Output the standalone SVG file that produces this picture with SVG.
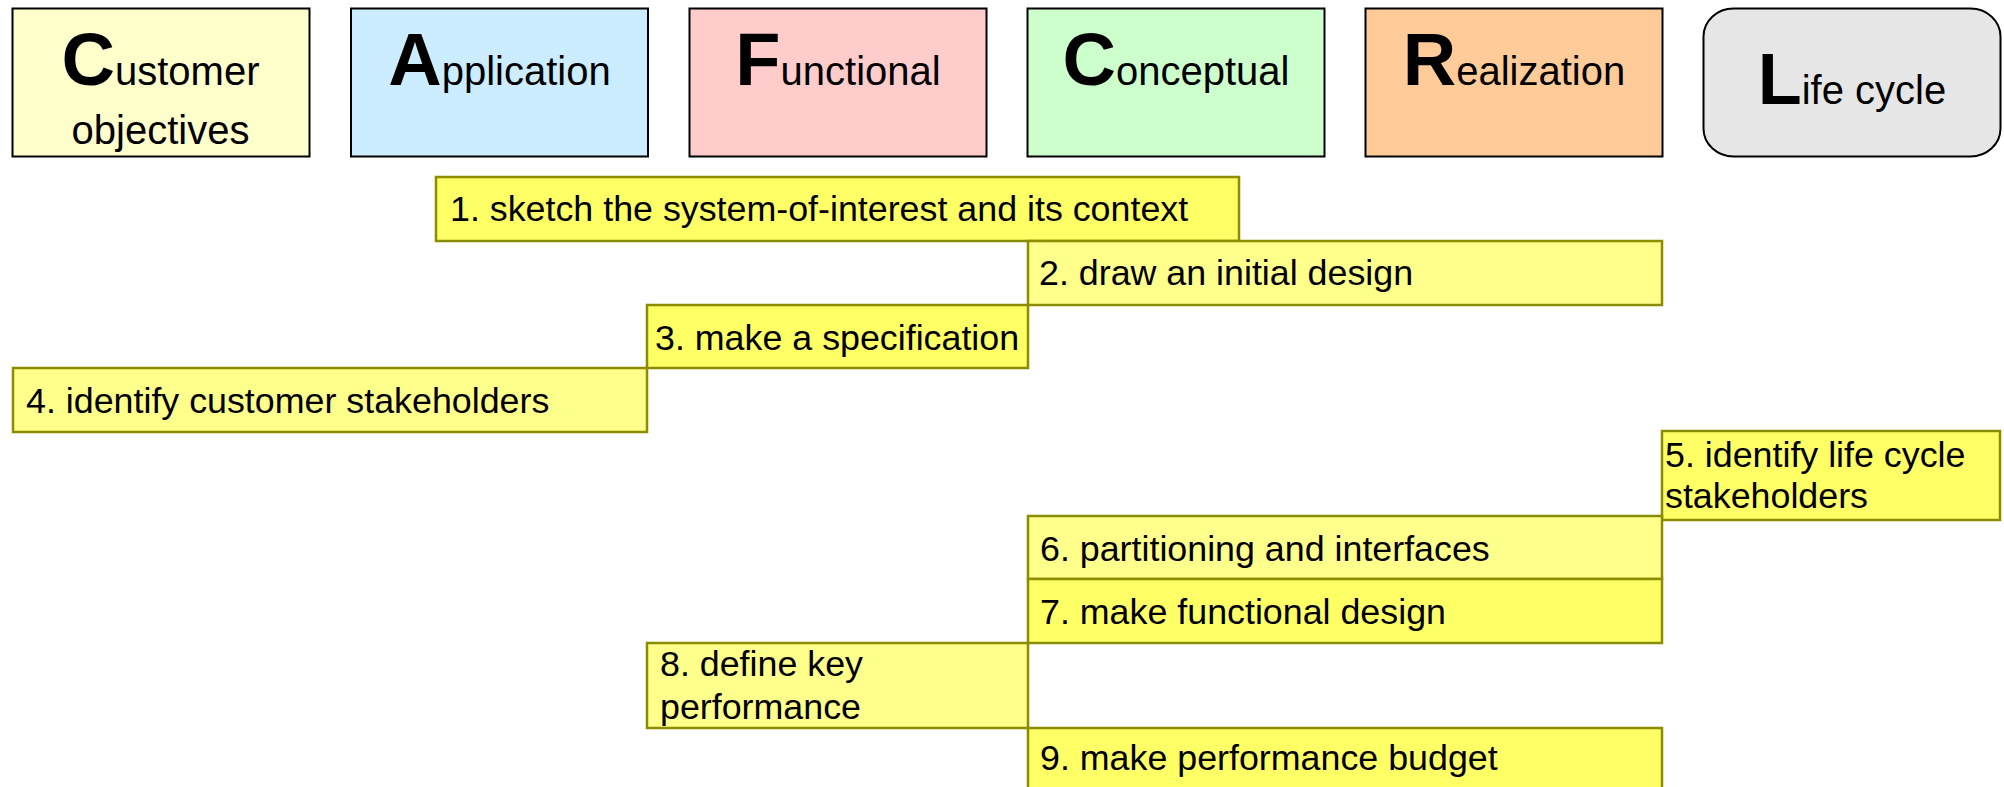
<svg xmlns="http://www.w3.org/2000/svg" width="2004" height="787" viewBox="0 0 2004 787">
<style>
text{font-family:"Liberation Sans",Arial,Helvetica,sans-serif;fill:#000}
.hd{stroke:#000;stroke-width:2}
.hdt{font-size:40px}
.big{font-size:74px;font-weight:bold}
.task{stroke:#8C8C00;stroke-width:2.5}
.t1{fill:#FFFF66}
.t2{fill:#FFFF8C}
.tt{font-size:35.8px}
</style>
<rect width="2004" height="787" fill="#fff"/>
<g id="customer">
<rect class="hd" x="12.5" y="8.5" width="297" height="148" fill="#FFFFCC"/>
<text class="hdt" x="160.5" y="85" text-anchor="middle"><tspan class="big">C</tspan>ustomer</text>
<text class="hdt" x="160.5" y="144" text-anchor="middle">objectives</text>
</g>
<g id="application">
<rect class="hd" x="351" y="8.5" width="297" height="148" fill="#CCECFF"/>
<text class="hdt" x="499.5" y="85" text-anchor="middle"><tspan class="big">A</tspan>pplication</text>
</g>
<g id="functional">
<rect class="hd" x="689.5" y="8.5" width="297" height="148" fill="#FFCCCC"/>
<text class="hdt" x="838" y="85" text-anchor="middle"><tspan class="big">F</tspan>unctional</text>
</g>
<g id="conceptual">
<rect class="hd" x="1027.5" y="8.5" width="297" height="148" fill="#CCFFCC"/>
<text class="hdt" x="1176" y="85" text-anchor="middle"><tspan class="big">C</tspan>onceptual</text>
</g>
<g id="realization">
<rect class="hd" x="1365.5" y="8.5" width="297" height="148" fill="#FFCC99"/>
<text class="hdt" x="1514" y="85" text-anchor="middle"><tspan class="big">R</tspan>ealization</text>
</g>
<g id="lifecycle">
<rect class="hd" x="1703.5" y="8.5" width="297" height="148" rx="30" ry="28" fill="#E6E6E6"/>
<text class="hdt" x="1852" y="104" text-anchor="middle"><tspan class="big" style="font-size:72px">L</tspan>ife cycle</text>
</g>
<g id="connectors"></g>
<g id="step1">
<rect class="task t1" x="436" y="177" width="803" height="64"/>
<text class="tt" x="450" y="221">1. sketch the system-of-interest and its context</text>
</g>
<g id="step2">
<rect class="task t2" x="1028" y="241" width="634" height="64"/>
<text class="tt" x="1039" y="285">2. draw an initial design</text>
</g>
<g id="step3">
<rect class="task t1" x="647" y="305" width="381" height="63"/>
<text class="tt" x="655" y="350">3. make a specification</text>
</g>
<g id="step4">
<rect class="task t2" x="13" y="368" width="634" height="64"/>
<text class="tt" x="26" y="413">4. identify customer stakeholders</text>
</g>
<g id="step5">
<rect class="task t1" x="1662" y="431" width="338" height="89"/>
<text class="tt" x="1665" y="467">5. identify life cycle</text>
<text class="tt" x="1665" y="508">stakeholders</text>
</g>
<g id="step6">
<rect class="task t2" x="1028" y="516" width="634" height="63"/>
<text class="tt" x="1040" y="561">6. partitioning and interfaces</text>
</g>
<g id="step7">
<rect class="task t1" x="1028" y="579" width="634" height="64"/>
<text class="tt" x="1040" y="624">7. make functional design</text>
</g>
<g id="step8">
<rect class="task t2" x="647" y="643" width="381" height="85"/>
<text class="tt" x="660" y="676">8. define key</text>
<text class="tt" x="660" y="719">performance</text>
</g>
<g id="step9">
<rect class="task t1" x="1028" y="728" width="634" height="80"/>
<text class="tt" x="1040" y="770">9. make performance budget</text>
</g>
</svg>
